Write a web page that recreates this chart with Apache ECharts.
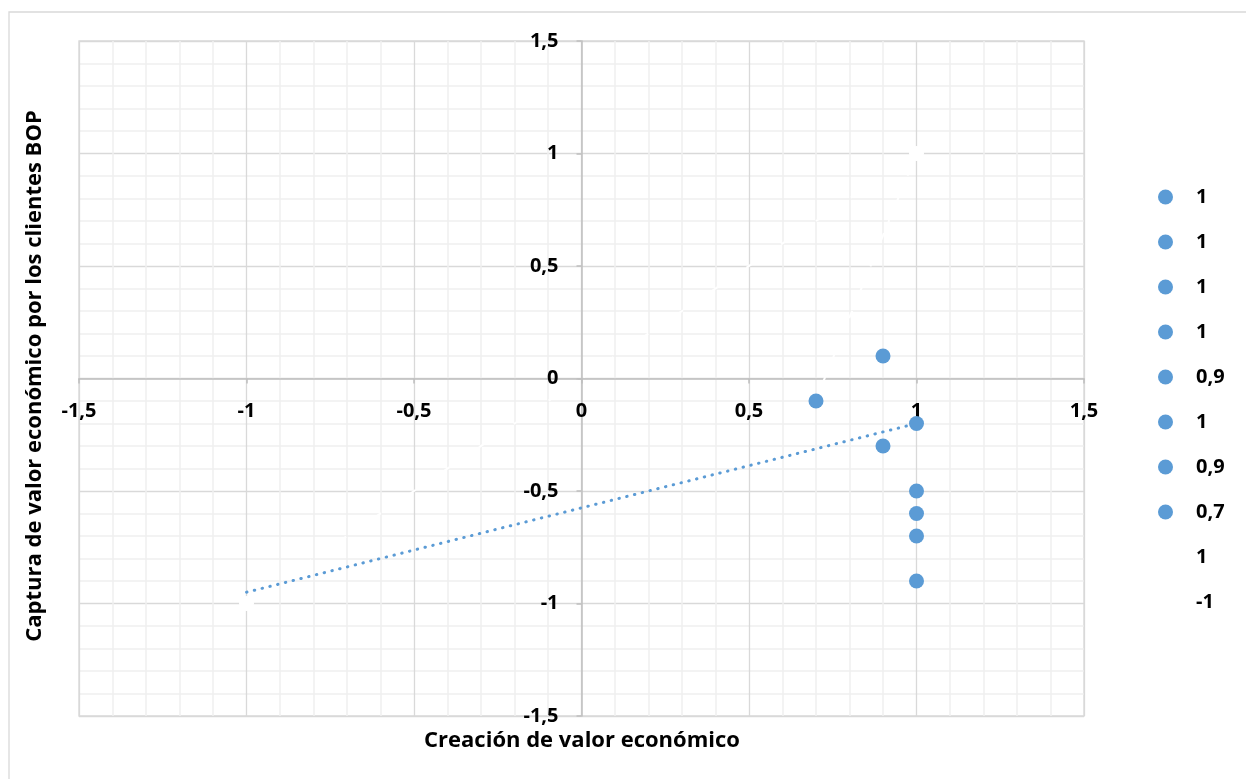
<!DOCTYPE html>
<html>
<head>
<meta charset="utf-8">
<script src="https://cdn.jsdelivr.net/npm/echarts@6/dist/echarts.min.js"></script>
<style>html,body{margin:0;padding:0;background:#fff;}#c{width:1246px;height:779px;}</style>
</head>
<body>
<div id="c"></div>
<script>
// Data
const legendLabels = ['1', '1', '1', '1', '0,9', '1', '0,9', '0,7', '1', '-1'];
const pointX = [1, 1, 1, 1, 0.9, 1, 0.9, 0.7, 1, -1];
const pointY = [-0.9, -0.7, -0.6, -0.5, -0.3, -0.2, 0.1, -0.1, 1, -1];
const pointVisible = [true, true, true, true, true, true, true, true, false, false];
const trendX = [-1, 1];
const trendY = [-0.95, -0.2];
const whiteLine1X = [-1, 1];
const whiteLine1Y = [-1, 1];
const whiteLine2X = [0.72, 1];
const whiteLine2Y = [-0.02, 1];
const axisTicks = [-1.5, -1, -0.5, 0, 0.5, 1, 1.5];

const BLUE = '#5b9bd5';
const FONT = 'Open Sans';
const fmt = v => String(v).replace('.', ',');

const W = 1246, H = 779;
const GL = 79, GR = 162, GT = 41, GB = 63;
const gridW = W - GL - GR, gridH = H - GT - GB;

const series = [];
const ids = [];
pointX.forEach((x, i) => {
  const id = 's' + i;
  ids.push(id);
  const col = pointVisible[i] ? BLUE : '#ffffff';
  series.push({
    name: id,
    type: 'scatter',
    symbol: 'circle',
    symbolSize: 15,
    itemStyle: { color: col, opacity: 1 },
    data: [[x, pointY[i]]],
    z: 5
  });
});
series.push({
  type: 'line', name: 'w1', data: whiteLine1X.map((x, i) => [x, whiteLine1Y[i]]),
  symbol: 'none', lineStyle: { color: '#ffffff', width: 2, type: [8, 6] }, z: 3, silent: true
});
series.push({
  type: 'line', name: 'w2', data: whiteLine2X.map((x, i) => [x, whiteLine2Y[i]]),
  symbol: 'none', lineStyle: { color: '#ffffff', width: 2, type: [8, 6] }, z: 3, silent: true
});
series.push({
  type: 'line', name: 'trend', data: trendX.map((x, i) => [x, trendY[i]]),
  symbol: 'none', lineStyle: { color: BLUE, width: 3, type: [0.5, 7.5], cap: 'round' }, z: 4, silent: true
});

const chart = echarts.init(document.getElementById('c'), null, { renderer: 'canvas' });
const axisCommon = {
  type: 'value',
  min: axisTicks[0],
  max: axisTicks[axisTicks.length - 1],
  interval: 0.5,
  axisLine: { show: true, onZero: false, lineStyle: { color: '#bfbfbf', width: 1.5 } },
  axisTick: { show: true, length: 5, lineStyle: { color: '#bfbfbf', width: 1.5 } },
  minorTick: { show: false, splitNumber: 5 },
  splitLine: { show: true, lineStyle: { color: '#d9d9d9', width: 1.3 } },
  minorSplitLine: { show: true, lineStyle: { color: '#efefef', width: 1.5 } },
  axisLabel: {
    formatter: fmt, color: '#000', fontFamily: FONT, fontWeight: 'bold', fontSize: 20,
    showMinLabel: true, showMaxLabel: true
  }
};
chart.setOption({
  animation: false,
  backgroundColor: '#fff',
  grid: { left: GL, right: GR, top: GT, bottom: GB, show: true, borderColor: '#d9d9d9', borderWidth: 1.3, containLabel: false },
  xAxis: Object.assign({}, axisCommon, {
    position: 'bottom', offset: -gridH / 2,
    axisLabel: Object.assign({}, axisCommon.axisLabel, { margin: 23 })
  }),
  yAxis: Object.assign({}, axisCommon, {
    position: 'left', offset: -gridW / 2,
    axisLabel: Object.assign({}, axisCommon.axisLabel, { margin: 23 })
  }),
  legend: {
    orient: 'vertical',
    left: 1153,
    top: 182,
    itemWidth: 15,
    itemHeight: 15,
    itemGap: 25,
    icon: 'circle',
    data: ids,
    selectedMode: false,
    formatter: name => legendLabels[ids.indexOf(name)],
    textStyle: { color: '#000', fontFamily: FONT, fontWeight: 'bold', fontSize: 20, padding: [0, 0, 0, 18] }
  },
  graphic: [
    { type: 'rect', x: 9, y: 12, shape: { width: 1300, height: 900 }, style: { fill: 'none', stroke: '#d9d9d9', lineWidth: 1.3 }, z: -10, silent: true },
    { type: 'text', x: 582, y: 741, style: { text: 'Creación de valor económico', font: 'bold 22px "Open Sans"', fill: '#000', align: 'center', verticalAlign: 'middle' } },
    { type: 'text', x: 35, y: 376, rotation: Math.PI / 2, style: { text: 'Captura de valor económico por los clientes BOP', font: 'bold 22px "Open Sans"', fill: '#000', align: 'center', verticalAlign: 'middle' } }
  ],
  series: series
});
</script>
</body>
</html>
